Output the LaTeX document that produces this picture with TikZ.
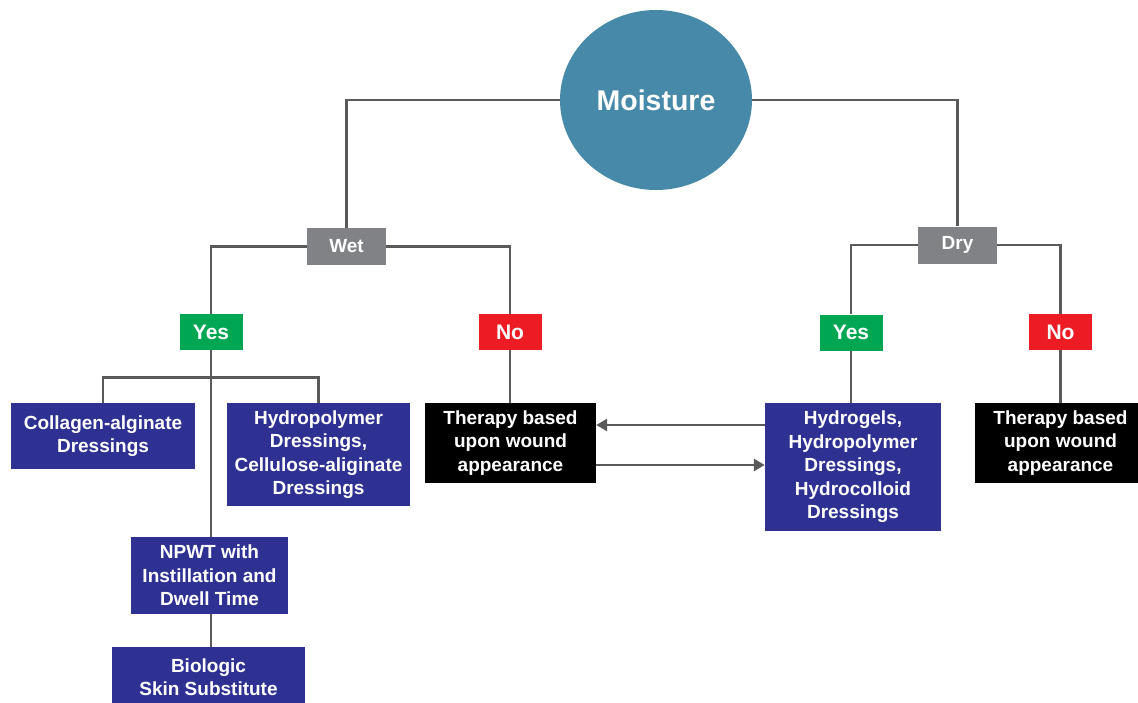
\documentclass[tikz,border=0pt]{standalone}
\usepackage{fontspec}
\setmainfont{Liberation Sans}
\usetikzlibrary{shapes.geometric,arrows.meta}
\definecolor{teal}{RGB}{70,137,168}
\definecolor{boxgray}{RGB}{128,130,133}
\definecolor{yesgreen}{RGB}{0,166,81}
\definecolor{nored}{RGB}{237,28,36}
\definecolor{dressblue}{RGB}{46,49,146}
\definecolor{linegray}{RGB}{90,90,90}
\tikzset{
  base/.style={inner sep=0pt, align=center, text=white, font=\bfseries\fontsize{19}{23.5}\selectfont},
  stateb/.style={base, fill=boxgray, minimum width=79pt, minimum height=37pt, font=\bfseries\fontsize{19}{22}\selectfont},
  yesb/.style={base, fill=yesgreen, minimum width=63pt, minimum height=36pt, font=\bfseries\fontsize{21}{25}\selectfont},
  nob/.style={base, fill=nored, minimum width=63pt, minimum height=36pt, font=\bfseries\fontsize{21}{25}\selectfont},
  dressing/.style={base, fill=dressblue},
  therapy/.style={base, fill=black, minimum width=171pt, minimum height=80pt},
  link/.style={draw=linegray, line width=2.8pt},
  arr/.style={link, -{Triangle[length=11pt,width=12pt]}}
}
\begin{document}
\begin{tikzpicture}[x=1pt,y=-1pt]
\useasboundingbox (0,0) rectangle (1138,702);
\clip (0,0) rectangle (1138,702);

% root
\node[ellipse, fill=teal, minimum width=192pt, minimum height=180pt, inner sep=0pt,
      text=white, font=\bfseries\fontsize{28.5}{32}\selectfont] (moist) at (656,100) {Moisture};

% first split
\node[stateb] (wet) at (346.5,246.5) {Wet};
\node[stateb] (dry) at (957.5,245) {Dry};

% answers
\node[yesb] (yesL) at (211,332) {Yes};
\node[nob]  (noL)  at (510,332) {No};
\node[yesb] (yesR) at (851,332.5) {Yes};
\node[nob]  (noR)  at (1060.5,332) {No};

% wet, yes: dressings
\node[dressing, minimum width=184pt, minimum height=66pt] (coll) at (103,436)
  {Collagen-alginate\\Dressings};
\node[dressing, minimum width=183pt, minimum height=103pt] (hydro) at (318.5,454.5)
  {Hydropolymer\\Dressings,\\Cellulose-aliginate\\Dressings};
\node[dressing, minimum width=157pt, minimum height=77pt] (npwt) at (209.5,575.5)
  {NPWT with\\Instillation and\\Dwell Time};
\node[dressing, minimum width=193pt, minimum height=60pt] (bio) at (208.5,677)
  {Biologic\\Skin Substitute};

% wet, no / dry, no
\node[therapy] (therL) at (510.5,443) {Therapy based\\upon wound\\appearance};
\node[therapy] (therR) at (1060.5,443) {Therapy based\\upon wound\\appearance};

% dry, yes
\node[dressing, minimum width=176pt, minimum height=128pt] (gels) at (853,467)
  {Hydrogels,\\Hydropolymer\\Dressings,\\Hydrocolloid\\Dressings};

% connectors
\draw[link] (moist.west) -| (wet.north);
\draw[link] (moist.east) -| (dry.north);
\draw[link] (wet.west) -| (yesL.north);
\draw[link] (wet.east) -| (noL.north);
\draw[link] (dry.west) -| (yesR.north);
\draw[link] (dry.east) -| (noR.north);

\draw[link] (yesL.south) -- (yesL.south |- npwt.north);
\draw[link] (coll.north) -- ++(0,-25) -| (hydro.north);
\draw[link] (yesL.south |- npwt.south) -- (yesL.south |- bio.north);

\draw[link] (noL.south) -- (noL.south |- therL.north);
\draw[link] (yesR.south) -- (yesR.south |- gels.north);
\draw[link] (noR.south) -- (noR.south |- therR.north);

\coordinate (backstart) at ([yshift=42pt]gels.west);
\coordinate (fwdstart) at ([yshift=-22pt]therL.east);
\draw[arr] (backstart) -- (backstart -| therL.east);
\draw[arr] (fwdstart) -- (fwdstart -| gels.west);
\end{tikzpicture}
\end{document}
